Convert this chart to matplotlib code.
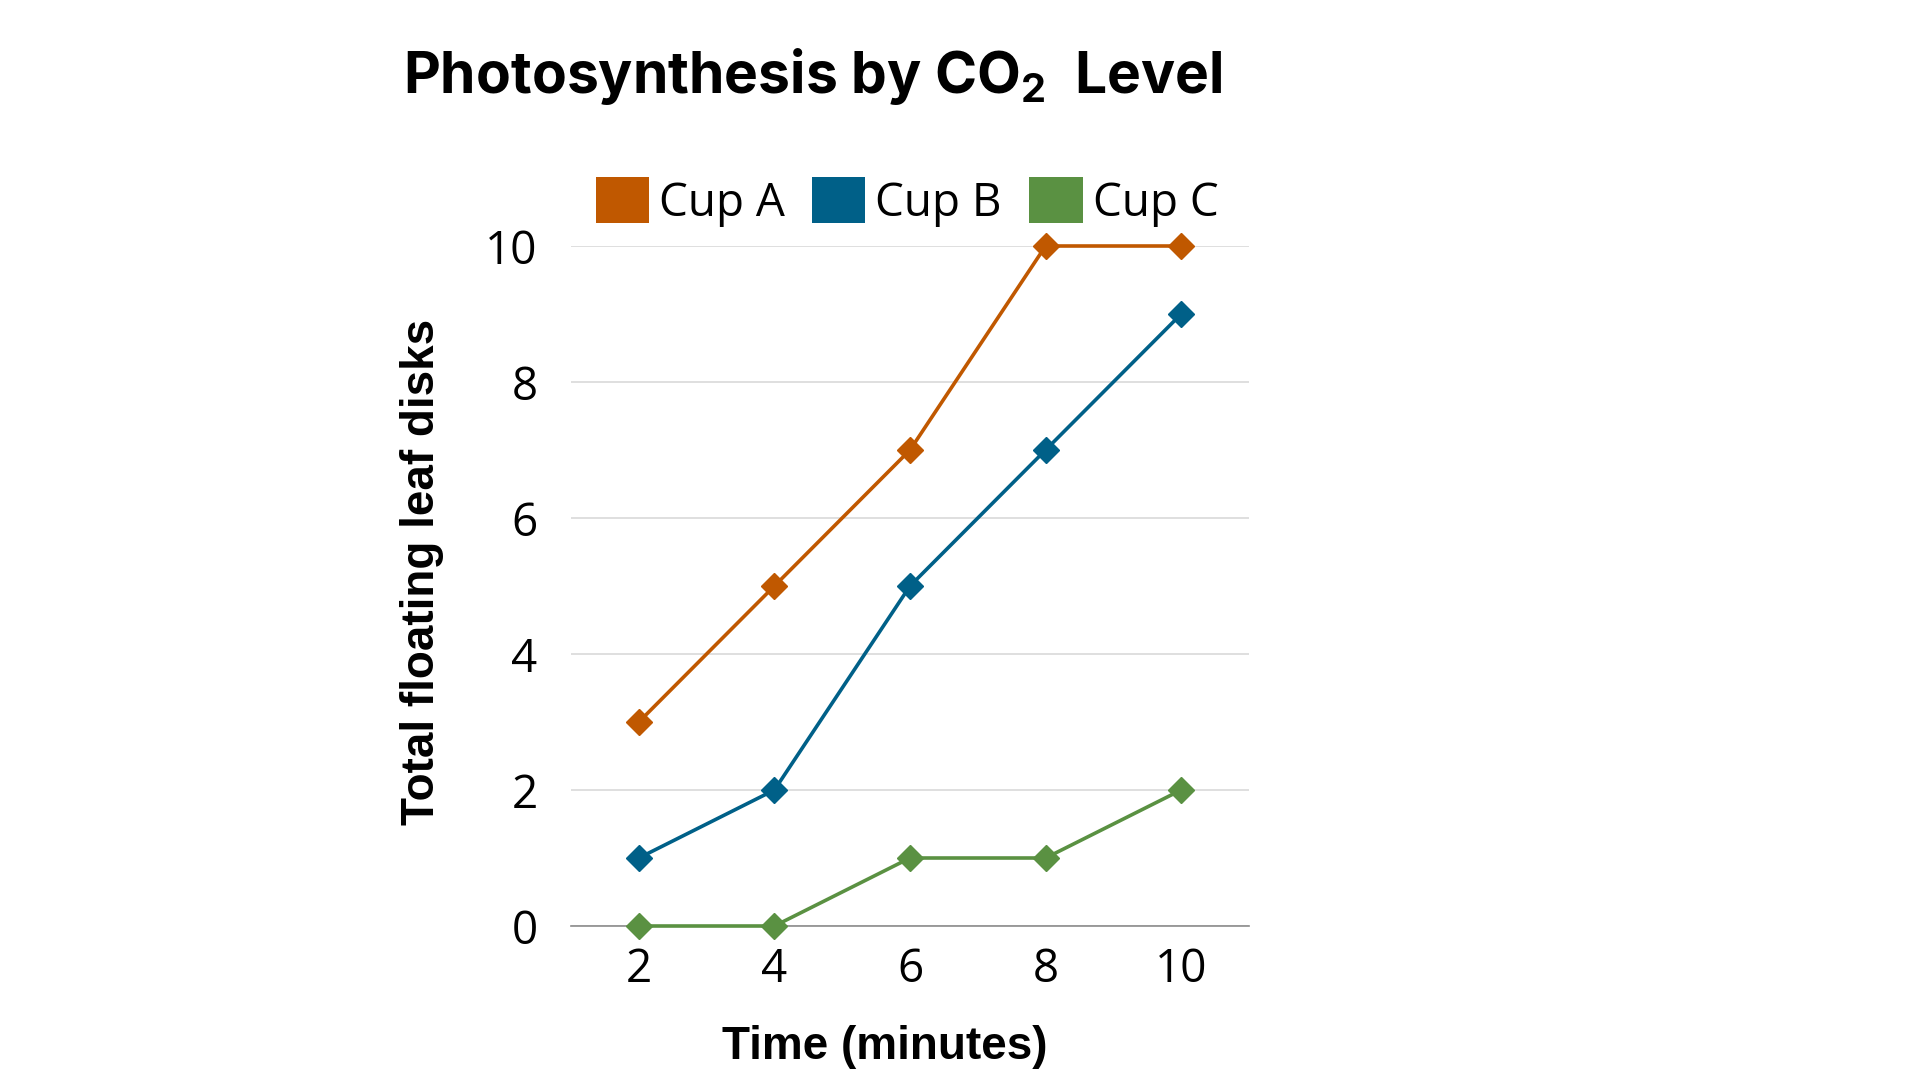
import matplotlib
matplotlib.use("Agg")
import matplotlib.pyplot as plt
from matplotlib.patches import Patch

# data
minutes = [2, 4, 6, 8, 10]
cup_a = [3, 5, 7, 10, 10]
cup_b = [1, 2, 5, 7, 9]
cup_c = [0, 0, 1, 1, 2]
series_names = ["Cup A", "Cup B", "Cup C"]
series_colors = ["#C05800", "#006088", "#5A9142"]
y_ticks = [0, 2, 4, 6, 8, 10]

plt.rcParams["font.family"] = ["Open Sans", "DejaVu Sans"]
plt.rcParams["mathtext.fontset"] = "custom"
plt.rcParams["mathtext.bf"] = "Inter:bold"
plt.rcParams["mathtext.rm"] = "Inter:bold"

fig = plt.figure(figsize=(19.2, 10.8), dpi=100)
ax = fig.add_axes([571 / 1920, 1 - 926 / 1080, (1249 - 571) / 1920, (926 - 246) / 1080])

for vals, col in zip([cup_a, cup_b, cup_c], series_colors):
    ax.plot(minutes, vals, color=col, lw=2.6, marker="D", ms=13, zorder=3, clip_on=False)

ax.set_xlim(1, 11)
ax.set_ylim(0, 10)
ax.set_xticks(minutes)
ax.set_yticks(y_ticks)
ax.tick_params(length=0, labelsize=33)
ax.tick_params(axis="x", pad=15)
ax.tick_params(axis="y", pad=24)
ax.grid(axis="y", color="#d9d9d9", lw=1.2)
ax.set_axisbelow(True)
for s in ["top", "right", "left"]:
    ax.spines[s].set_visible(False)
ax.spines["bottom"].set_color("#8c8c8c")
ax.spines["bottom"].set_linewidth(1.2)

# title with subscript 2
fig.text(813 / 1920, 1 - 93 / 1080, r"Photosynthesis by CO$_{\mathbf{2}}$  Level",
         ha="center", va="baseline", fontsize=41, family="Inter", fontweight="bold")

fig.text(885 / 1920, 1 - 1047 / 1080, "Time (minutes)", ha="center", va="center",
         fontsize=33, family="Liberation Sans", fontweight="bold")
fig.text(422 / 1920, 1 - 572 / 1080, "Total floating leaf disks", ha="center", va="center",
         rotation=90, fontsize=33, family="Liberation Sans", fontweight="bold")

handles = [Patch(facecolor=c, edgecolor="none") for c in series_colors]
fig.legend(handles, series_names, loc="center", bbox_to_anchor=(907 / 1920, 1 - 202 / 1080),
           ncol=3, frameon=False, fontsize=33, handlelength=1.16, handleheight=1.16,
           handletextpad=0.22, columnspacing=0.6, borderpad=0, borderaxespad=0)

fig.savefig("out.png", dpi=100, facecolor="white")
